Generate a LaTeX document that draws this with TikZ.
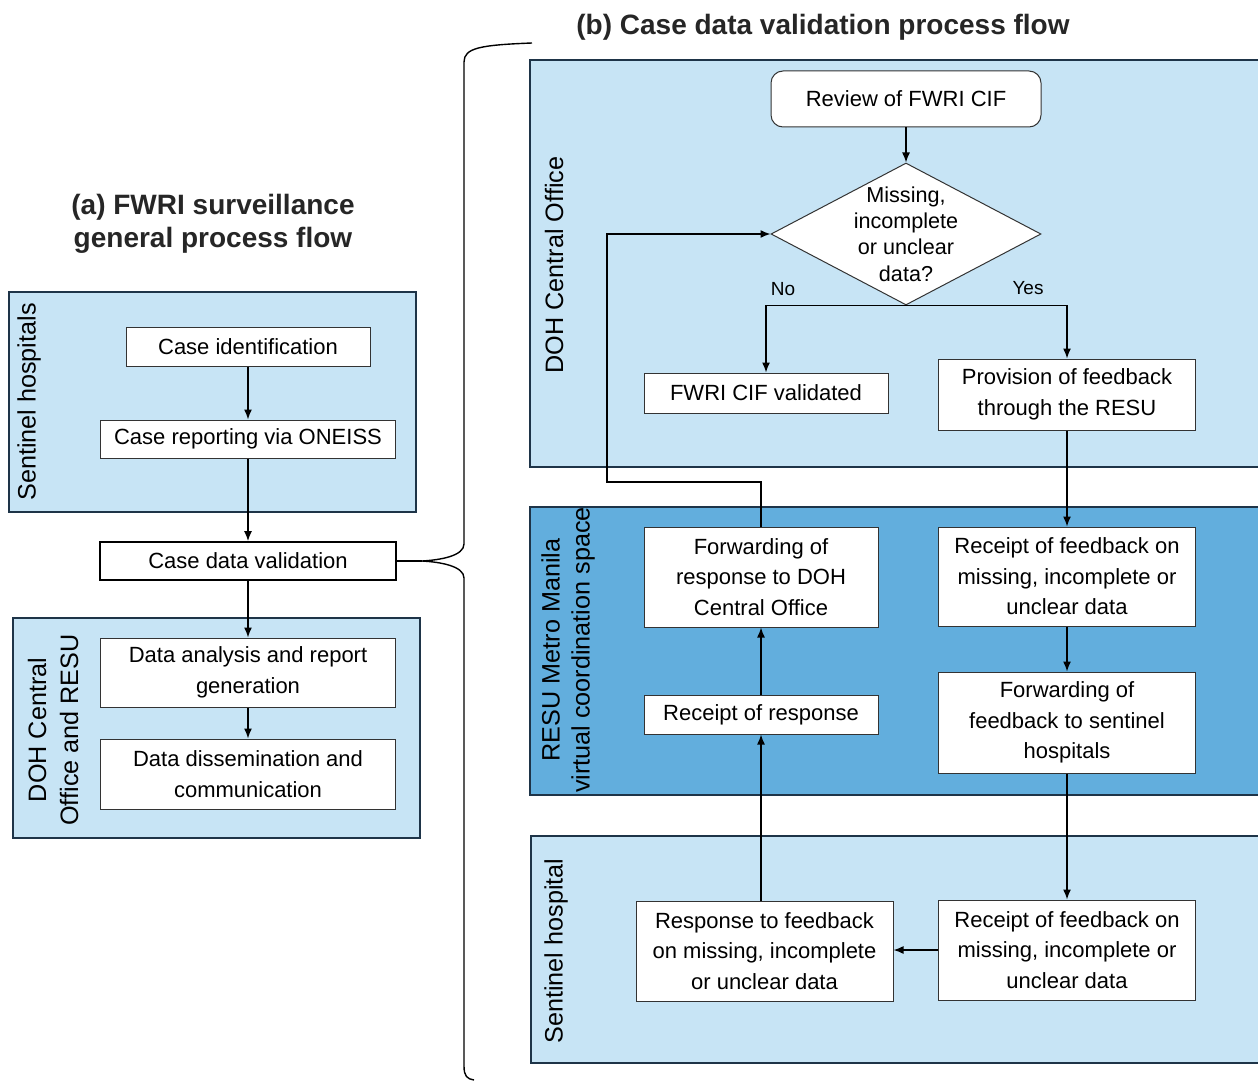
\documentclass[tikz,border=0pt]{standalone}
\usepackage{fontspec}
\setmainfont{Liberation Sans}
\usetikzlibrary{shapes.geometric,arrows.meta}
\definecolor{lanelight}{RGB}{199,228,245}
\definecolor{lanemid}{RGB}{98,174,221}
\definecolor{laneedge}{RGB}{30,52,72}
\tikzset{
  lane/.style={draw=laneedge, line width=0.8pt},
  lanelabel/.style={rotate=90, align=center, font=\fontsize{12.6}{16}\selectfont},
  box/.style={draw=black!80, fill=white, line width=0.5pt, align=center,
    inner sep=1pt, font=\fontsize{11}{15.2}\selectfont},
  flow/.style={-{Latex[length=5pt,width=4pt]}, line width=0.7pt},
  heading/.style={font=\bfseries\fontsize{14}{16.5}\selectfont, align=center, text=black!85},
  answer/.style={font=\fontsize{9.5}{11}\selectfont}
}

\begin{document}
\begin{tikzpicture}[x=0.5pt,y=-0.5pt]
\useasboundingbox (0,0) rectangle (1258,1081);
% (a) general process flow
\node[heading] (titlea) at (213,224) {(a) FWRI surveillance\\general process flow};
\filldraw[lane,fill=lanelight] (9,292) rectangle (416,512);
\filldraw[lane,fill=lanelight] (13,618) rectangle (420,838);
\node[lanelabel] (lanesh) at (29,402) {Sentinel hospitals};
\node[lanelabel] (lanedr) at (53,730) {DOH Central\\Office and RESU};
\node[box, minimum width=122pt, minimum height=19.5pt] (ident) at (248,346.5) {Case identification};
\node[box, minimum width=147.5pt, minimum height=19pt] (report) at (248,439) {Case reporting via ONEISS};
\node[box, draw=black, line width=0.9pt, minimum width=148pt, minimum height=19pt] (valid) at (248,561) {Case data validation};
\node[box, minimum width=147.5pt, minimum height=34.5pt] (analysis) at (248,672.5) {Data analysis and report\\generation};
\node[box, minimum width=147.5pt, minimum height=35pt] (dissem) at (248,774) {Data dissemination and\\communication};
\draw[flow] (ident) -- (report);
\draw[flow] (report) -- (valid);
\draw[flow] (valid) -- (analysis);
\draw[flow] (analysis) -- (dissem);

% brace to (b)
\coordinate (tip) at (422,561);
\draw[line width=0.7pt] (valid.east) -- (tip);
\draw[line width=0.7pt] (532,43) .. controls (480,45) and (464,48) .. (464,62) -- (464,544)
  .. controls (464,556) and (440,560) .. (tip)
  .. controls (440,562) and (464,566) .. (464,578) -- (464,1066)
  .. controls (464,1076) and (467,1079) .. (474,1080);

% (b) case data validation process flow
\node[heading] (titleb) at (823,27) {(b) Case data validation process flow};
\filldraw[lane,fill=lanelight] (530,60) rectangle (1262,467);
\filldraw[lane,fill=lanemid] (530,507) rectangle (1262,795);
\filldraw[lane,fill=lanelight] (531,836) rectangle (1262,1063);
\node[lanelabel] (laneco) at (554,265) {DOH Central Office};
\node[lanelabel, font=\fontsize{12.6}{15}\selectfont] (laneresu) at (568,650) {RESU Metro Manila\\virtual coordination space};
\node[lanelabel] (lanesent) at (556,951) {Sentinel hospital};

\node[box, rounded corners=6pt, minimum width=135pt, minimum height=28pt] (review) at (906,99) {Review of FWRI CIF};
\node[draw=black!80, fill=white, line width=0.5pt, shape=diamond, inner sep=0pt,
  minimum width=135pt, minimum height=71pt,
  label={[align=center, font=\fontsize{10.8}{13.2}\selectfont]center:Missing,\\incomplete\\or unclear\\data?}] (check) at (906,234) {};
\node[answer] (no) at (783,289) {No};
\node[answer] (yes) at (1028,288) {Yes};
\node[box, minimum width=122pt, minimum height=20pt] (cifok) at (766,393) {FWRI CIF validated};
\node[box, minimum width=128.5pt, minimum height=35.5pt] (prov) at (1067,394.5) {Provision of feedback\\through the RESU};

\node[box, minimum width=117pt, minimum height=50pt] (fwresp) at (761,577) {Forwarding of\\response to DOH\\Central Office};
\node[box, minimum width=117pt, minimum height=19.5pt] (recresp) at (761,714.5) {Receipt of response};
\node[box, minimum width=128.5pt, minimum height=49.5pt] (recfb) at (1067,576.5) {Receipt of feedback on\\missing, incomplete or\\unclear data};
\node[box, minimum width=128.5pt, minimum height=50.5pt] (fwfb) at (1067,722.5) {Forwarding of\\feedback to sentinel\\hospitals};

\node[box, minimum width=128.5pt, minimum height=50pt] (respsh) at (764.5,951) {Response to feedback\\on missing, incomplete\\or unclear data};
\node[box, minimum width=128.5pt, minimum height=50pt] (recsh) at (1067,950) {Receipt of feedback on\\missing, incomplete or\\unclear data};

\coordinate (loop) at (607,482);
\draw[flow] (review) -- (check);
\draw[flow] (check.south) -| (cifok.north);
\draw[flow] (check.south) -| (prov.north);
\draw[flow] (prov) -- (recfb);
\draw[flow] (recfb) -- (fwfb);
\draw[flow] (fwfb) -- (recsh);
\draw[flow] (recsh.west) -- (respsh.east |- recsh.west);
\draw[flow] (recresp.south |- respsh.north) -- (recresp.south);
\draw[flow] (recresp) -- (fwresp);
\draw[flow] (fwresp.north) |- (loop) |- (check.west);
\end{tikzpicture}
\end{document}
